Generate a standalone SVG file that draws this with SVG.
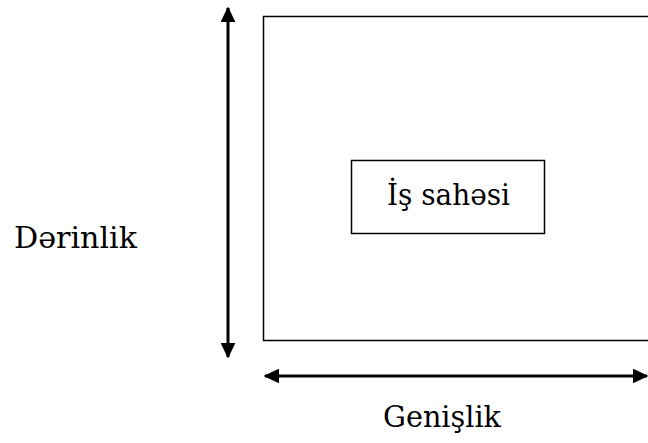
<svg xmlns="http://www.w3.org/2000/svg" width="648" height="443" viewBox="0 0 648 443">
  <style>
    .frame { fill: none; stroke: #000; stroke-width: 1.5; }
    .dim { stroke: #000; stroke-width: 3; fill: none; }
    .label { font-family: 'DejaVu Serif', 'Liberation Serif', serif; font-size: 30px; fill: #000; }
  </style>
  <defs>
    <marker id="head" viewBox="0 0 10 10" refX="9" refY="5" markerWidth="16" markerHeight="15" markerUnits="userSpaceOnUse" orient="auto-start-reverse" preserveAspectRatio="none">
      <path d="M0,0 L10,5 L0,10 Z" fill="#000"/>
    </marker>
  </defs>

  <g id="area">
    <rect class="frame" x="263.5" y="16.5" width="400" height="324"/>
  </g>

  <g id="workspace">
    <rect class="frame" x="351.5" y="160.5" width="193" height="73"/>
    <text class="label" x="387" y="205" textLength="123" lengthAdjust="spacingAndGlyphs">İş sahəsi</text>
  </g>

  <g id="depth-label">
    <text class="label" x="14" y="248" textLength="123" lengthAdjust="spacingAndGlyphs">Dərinlik</text>
  </g>

  <g id="width-label">
    <text class="label" x="383" y="427" textLength="118" lengthAdjust="spacingAndGlyphs">Genişlik</text>
  </g>

  <g id="connectors">
    <line class="dim" x1="228" y1="8" x2="228" y2="357" marker-start="url(#head)" marker-end="url(#head)"/>
    <line class="dim" x1="265" y1="376" x2="647" y2="376" marker-start="url(#head)" marker-end="url(#head)"/>
  </g>
</svg>
